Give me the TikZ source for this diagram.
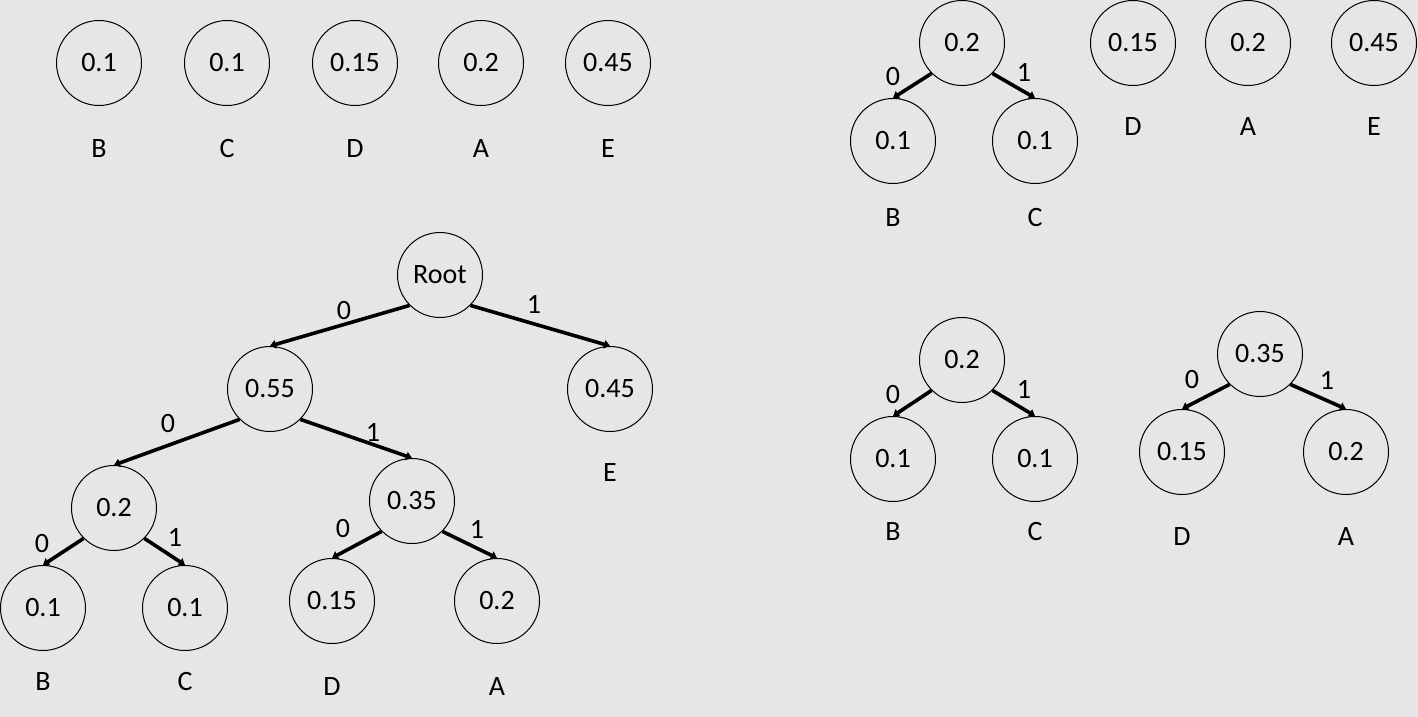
\documentclass[tikz,border=0pt]{standalone}
\usepackage{fontspec}
\setmainfont{Carlito}
\usetikzlibrary{arrows.meta}
\definecolor{bgc}{HTML}{E6E6E6}
\begin{document}
\begin{tikzpicture}[x=1pt,y=-1pt,
  every node/.style={font=\fontsize{28}{32}\selectfont},
  nd/.style={circle,draw=black,line width=1pt,minimum size=85pt,inner sep=0pt},
  lbl/.style={inner sep=0pt},
  edge/.style={line width=3.6pt,-{Triangle[length=6pt,width=8.5pt]}}]
\fill[bgc] (0,0) rectangle (1418,717);
\useasboundingbox (0,0) rectangle (1418,717);
% top-left row
\node[nd] (t1) at (99,63) {0.1};
\node[nd] (t2) at (227,63) {0.1};
\node[nd] (t3) at (355,63) {0.15};
\node[nd] (t4) at (481,63) {0.2};
\node[nd] (t5) at (608,63) {0.45};
\node[lbl] (tl1) at (99,149) {B};
\node[lbl] (tl2) at (227,149) {C};
\node[lbl] (tl3) at (355,149) {D};
\node[lbl] (tl4) at (481,149) {A};
\node[lbl] (tl5) at (608,149) {E};
% top-right
\node[nd] (a0) at (962,43) {0.2};
\node[nd] (a1) at (893,141) {0.1};
\node[nd] (a2) at (1035,141) {0.1};
\node[lbl] (al1) at (893,218) {B};
\node[lbl] (al2) at (1035,218) {C};
\draw[edge] (a0.south west) -- (a1.north);
\draw[edge] (a0.south east) -- (a2.north);
\node[lbl] (ae0) at (893,77) {0};
\node[lbl] (ae1) at (1024,72) {1};
\node[nd] (a3) at (1133,43) {0.15};
\node[nd] (a4) at (1248,43) {0.2};
\node[nd] (a5) at (1374,43) {0.45};
\node[lbl] (al3) at (1133,127) {D};
\node[lbl] (al4) at (1248,127) {A};
\node[lbl] (al5) at (1374,127) {E};
% middle-right
\node[nd] (b0) at (962,360) {0.2};
\node[nd] (b1) at (893,459) {0.1};
\node[nd] (b2) at (1035,459) {0.1};
\node[lbl] (bl1) at (893,532) {B};
\node[lbl] (bl2) at (1035,532) {C};
\draw[edge] (b0.south west) -- (b1.north);
\draw[edge] (b0.south east) -- (b2.north);
\node[lbl] (be0) at (893,395) {0};
\node[lbl] (be1) at (1024,389) {1};
\node[nd] (c0) at (1260,354) {0.35};
\node[nd] (c1) at (1182,452) {0.15};
\node[nd] (c2) at (1346,452) {0.2};
\node[lbl] (cl1) at (1182,537) {D};
\node[lbl] (cl2) at (1346,537) {A};
\draw[edge] (c0.south west) -- (c1.north);
\draw[edge] (c0.south east) -- (c2.north);
\node[lbl] (ce0) at (1192,380) {0};
\node[lbl] (ce1) at (1327,380) {1};
% big tree
\node[nd] (r) at (440,275) {Root};
\node[nd] (n55) at (270,389) {0.55};
\node[nd] (n45) at (610,389) {0.45};
\node[lbl] (nE) at (610,473) {E};
\node[nd] (n20) at (114,508) {0.2};
\node[nd] (n35) at (412,501) {0.35};
\node[nd] (nB) at (43,608) {0.1};
\node[nd] (nC) at (185,608) {0.1};
\node[nd] (nD) at (332,601) {0.15};
\node[nd] (nA) at (497,601) {0.2};
\node[lbl] (lB) at (43,682) {B};
\node[lbl] (lC) at (185,682) {C};
\node[lbl] (lD) at (332,687) {D};
\node[lbl] (lA) at (497,687) {A};
\draw[edge] (r.south west) -- (n55.north);
\draw[edge] (r.south east) -- (n45.north);
\draw[edge] (n55.south west) -- (n20.north);
\draw[edge] (n55.south east) -- (n35.north);
\draw[edge] (n20.south west) -- (nB.north);
\draw[edge] (n20.south east) -- (nC.north);
\draw[edge] (n35.south west) -- (nD.north);
\draw[edge] (n35.south east) -- (nA.north);
\node[lbl] (e1) at (344,311) {0};
\node[lbl] (e2) at (534,304) {1};
\node[lbl] (e3) at (168,424) {0};
\node[lbl] (e4) at (373,432) {1};
\node[lbl] (e5) at (42,544) {0};
\node[lbl] (e6) at (175,537) {1};
\node[lbl] (e7) at (343,529) {0};
\node[lbl] (e8) at (477,529) {1};
\end{tikzpicture}
\end{document}
